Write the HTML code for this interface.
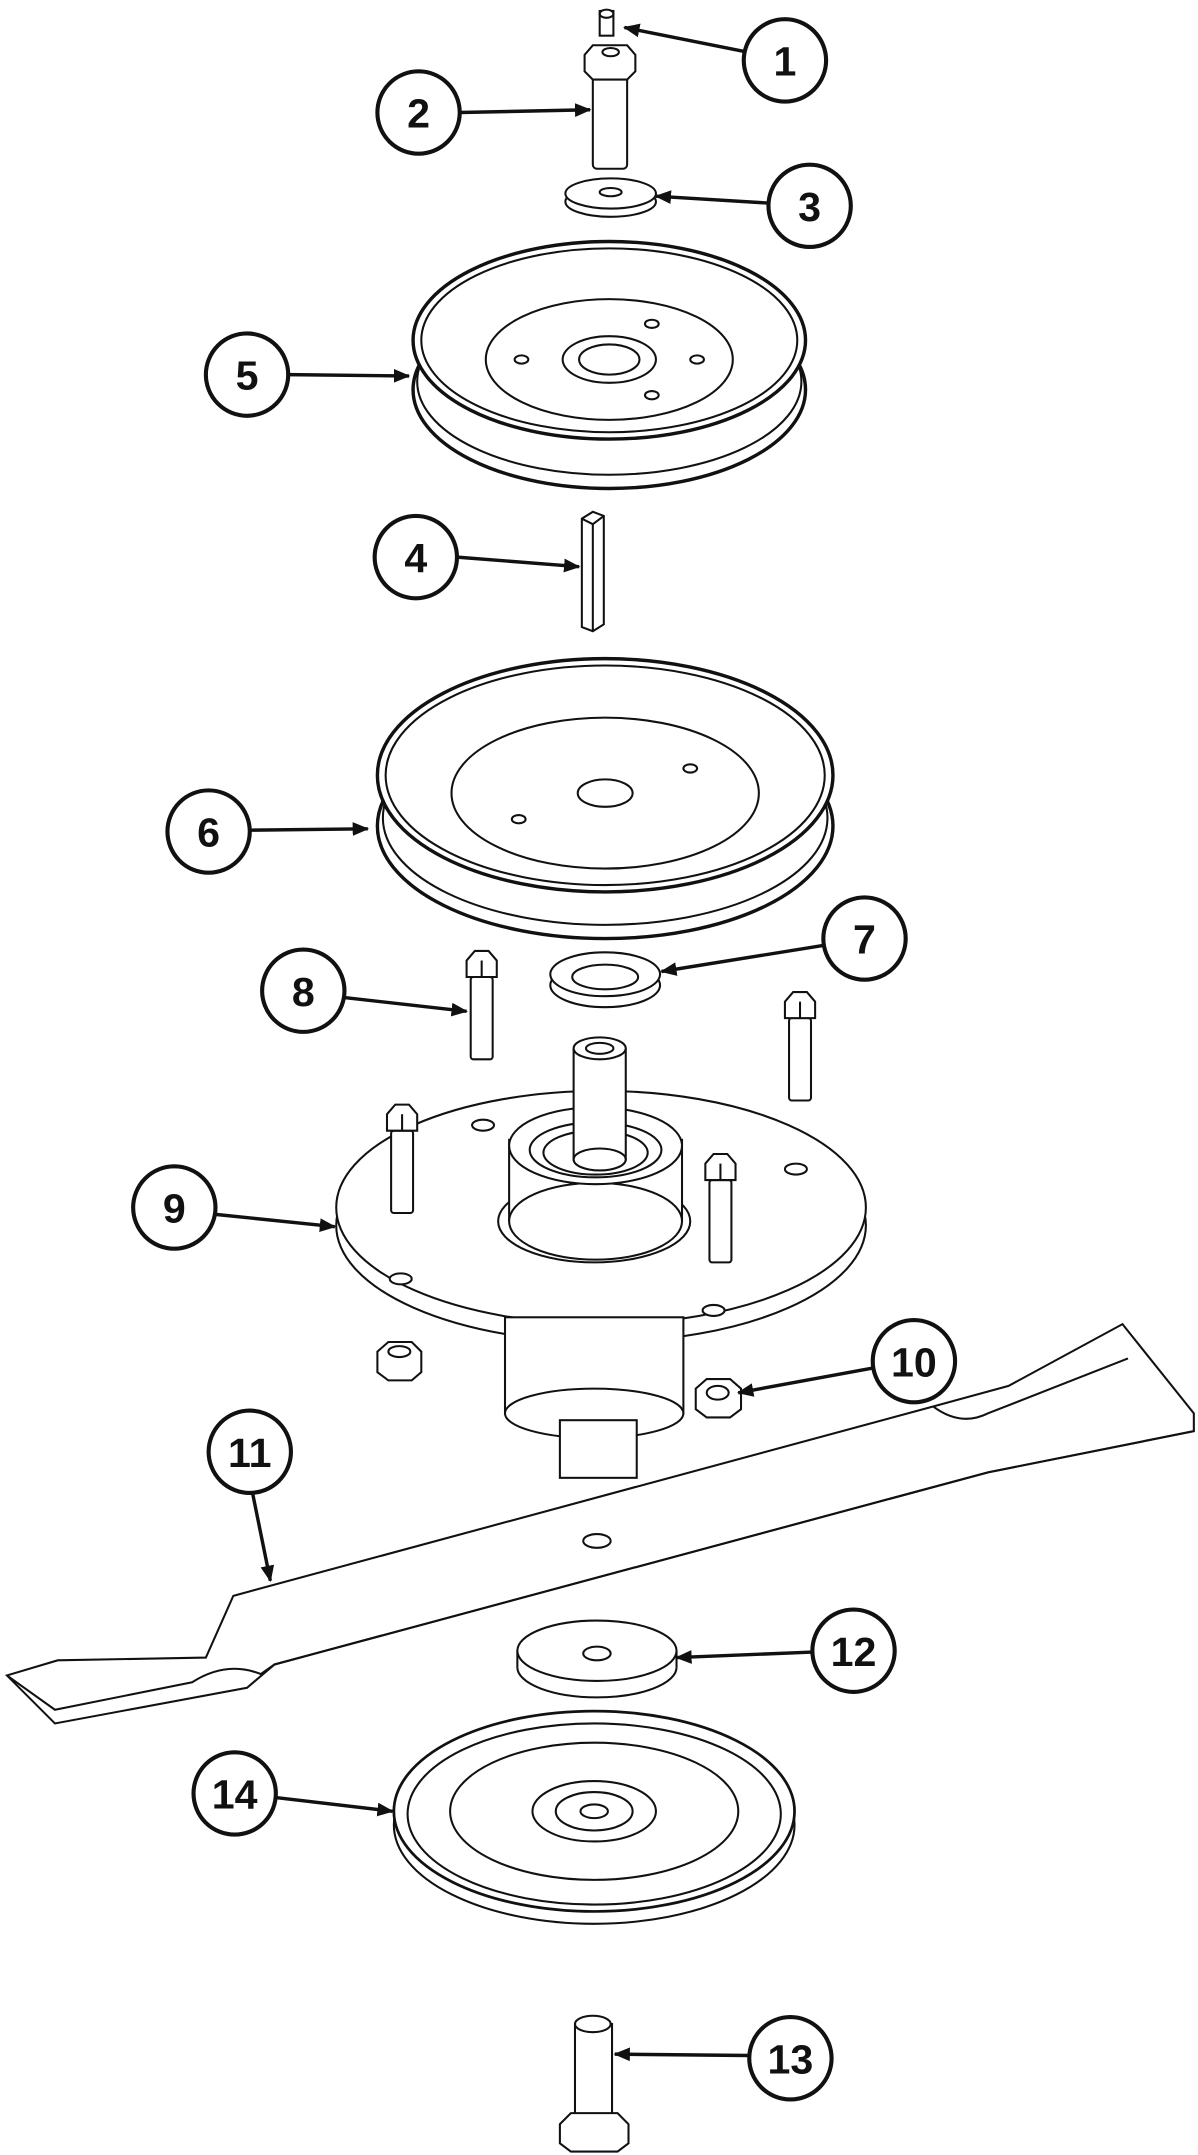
<!DOCTYPE html>
<html><head><meta charset="utf-8"><style>
html,body{margin:0;padding:0;background:#fff;}
svg{display:block;}
text{font-family:"Liberation Sans",Arial,sans-serif;font-weight:bold;font-size:30px;}
</style></head><body>
<svg width="1198" height="2155" viewBox="0 0 873 1570.5" xmlns="http://www.w3.org/2000/svg">
<defs><marker id="a" markerWidth="12" markerHeight="10" refX="11" refY="5" orient="auto" markerUnits="userSpaceOnUse"><path d="M0,0 L12,5 L0,10 z" fill="#111"/></marker></defs>
<g fill="#fff" stroke="#111" stroke-width="1.5">
<rect x="437" y="8" width="10" height="18"/><ellipse cx="442" cy="10" rx="5" ry="3"/>
<rect x="432" y="48" width="25" height="75" rx="3"/>
<polygon points="426,40 432,33 457,33 463,40 463,52 457,58 432,58 426,52"/>
<ellipse cx="445" cy="38" rx="6" ry="3"/>
<ellipse cx="445" cy="147" rx="33" ry="11"/><ellipse cx="445" cy="141" rx="33" ry="11"/><ellipse cx="445" cy="140" rx="8" ry="3"/>
<ellipse cx="444" cy="284" rx="143" ry="72" stroke-width="2.5"/>
<ellipse cx="444" cy="278" rx="140" ry="68"/>
<ellipse cx="444" cy="248" rx="143" ry="72" stroke-width="2.5"/>
<ellipse cx="444" cy="248" rx="137" ry="67"/>
<ellipse cx="444" cy="262" rx="90" ry="44"/>
<ellipse cx="444" cy="262" rx="34" ry="17"/><ellipse cx="444" cy="262" rx="22" ry="11"/>
<ellipse cx="380" cy="262" rx="5" ry="3"/><ellipse cx="508" cy="262" rx="5" ry="3"/><ellipse cx="475" cy="236" rx="5" ry="3"/><ellipse cx="475" cy="288" rx="5" ry="3"/>
<polygon points="424,378 432,373 440,376 440,455 432,460 424,457"/>
<line x1="424" y1="378" x2="432" y2="382"/><line x1="432" y1="382" x2="440" y2="376"/><line x1="432" y1="382" x2="432" y2="460"/>
<ellipse cx="441" cy="602" rx="166" ry="82" stroke-width="2.5"/>
<ellipse cx="441" cy="596" rx="162" ry="78"/>
<ellipse cx="441" cy="565" rx="166" ry="85" stroke-width="2.5"/>
<ellipse cx="441" cy="565" rx="160" ry="80"/>
<ellipse cx="441" cy="578" rx="112" ry="55"/>
<ellipse cx="441" cy="578" rx="20" ry="10"/>
<ellipse cx="378" cy="597" rx="5" ry="3"/><ellipse cx="503" cy="560" rx="5" ry="3"/>
<ellipse cx="441" cy="718" rx="40" ry="16"/><ellipse cx="441" cy="710" rx="40" ry="16"/><ellipse cx="441" cy="712" rx="24" ry="9"/>
<ellipse cx="438" cy="893" rx="193" ry="85"/>
<ellipse cx="438" cy="880" rx="193" ry="85"/>
<rect x="368" y="960" width="130" height="70"/>
<ellipse cx="433" cy="1030" rx="65" ry="18"/>
<rect x="408" y="1035" width="56" height="42"/>
<ellipse cx="433" cy="890" rx="70" ry="30"/>
<rect x="371" y="830" width="126" height="60" stroke="none"/>
<line x1="371" y1="830" x2="371" y2="890"/><line x1="497" y1="830" x2="497" y2="890"/>
<ellipse cx="434" cy="890" rx="63" ry="28"/>
<ellipse cx="434" cy="835" rx="63" ry="28"/>
<ellipse cx="434" cy="838" rx="48" ry="20"/><ellipse cx="434" cy="840" rx="38" ry="16"/>
<rect x="418" y="765" width="38" height="80"/><ellipse cx="437" cy="845" rx="19" ry="8"/>
<ellipse cx="437" cy="764" rx="19" ry="8"/><ellipse cx="437" cy="764" rx="10" ry="4"/>
<ellipse cx="352" cy="820" rx="8" ry="4"/><ellipse cx="580" cy="852" rx="8" ry="4"/><ellipse cx="292" cy="932" rx="8" ry="4"/><ellipse cx="520" cy="955" rx="8" ry="4"/>
<g id="b"><rect x="343" y="712" width="16" height="60" rx="2"/><polygon points="340,700 346,693 356,693 362,700 362,712 340,712"/><line x1="351" y1="700" x2="351" y2="712"/></g>
<use href="#b" x="232" y="30"/><use href="#b" x="-58" y="112"/><use href="#b" x="174" y="148"/>
<polygon points="275,985 283,978 300,978 307,985 307,1000 300,1006 283,1006 275,1000"/><ellipse cx="291" cy="985" rx="8" ry="4"/>
<polygon points="507,1012 515,1005 532,1005 540,1012 540,1027 532,1033 515,1033 507,1027"/><ellipse cx="523" cy="1015" rx="8" ry="5"/>
<polygon points="5,1221 42,1210 150,1208 170,1163 680,1025 735,1010 818,965 870,1030 870,1043 720,1073 200,1213 180,1230 40,1256"/>
<path d="M5,1221 L40,1246 L140,1226 Q165,1210 190,1220 L200,1213 L720,1073 L870,1043" fill="none"/>
<path d="M680,1025 Q700,1040 720,1030 L822,990" fill="none"/>
<ellipse cx="435" cy="1123" rx="10" ry="5"/>
<ellipse cx="435" cy="1215" rx="58" ry="22"/><rect x="377" y="1203" width="116" height="12" stroke="none"/>
<line x1="377" y1="1203" x2="377" y2="1215"/><line x1="493" y1="1203" x2="493" y2="1215"/>
<ellipse cx="435" cy="1203" rx="58" ry="22"/><ellipse cx="435" cy="1205" rx="10" ry="5"/>
<ellipse cx="433" cy="1330" rx="146" ry="72"/>
<ellipse cx="433" cy="1320" rx="146" ry="73" stroke-width="2"/>
<ellipse cx="433" cy="1322" rx="136" ry="66"/>
<ellipse cx="433" cy="1320" rx="105" ry="50"/>
<ellipse cx="433" cy="1320" rx="45" ry="22"/><ellipse cx="433" cy="1320" rx="28" ry="14"/><ellipse cx="433" cy="1320" rx="10" ry="5"/>
<rect x="419" y="1475" width="27" height="70"/><ellipse cx="432" cy="1475" rx="13" ry="6"/>
<polygon points="408,1548 416,1540 450,1540 458,1548 458,1562 450,1568 416,1568 408,1562"/>
</g>
<g stroke="#111" stroke-width="2.5" fill="none" marker-end="url(#a)">
<line x1="545" y1="38" x2="455" y2="20"/>
<line x1="335" y1="82" x2="430" y2="80"/>
<line x1="560" y1="148" x2="478" y2="143"/>
<line x1="210" y1="273" x2="298" y2="274"/>
<line x1="333" y1="406" x2="422" y2="413"/>
<line x1="182" y1="605" x2="268" y2="604"/>
<line x1="600" y1="689" x2="482" y2="708"/>
<line x1="251" y1="727" x2="340" y2="737"/>
<line x1="157" y1="885" x2="244" y2="894"/>
<line x1="636" y1="997" x2="538" y2="1015"/>
<line x1="184" y1="1088" x2="197" y2="1152"/>
<line x1="592" y1="1204" x2="493" y2="1208"/>
<line x1="201" y1="1310" x2="286" y2="1320"/>
<line x1="546" y1="1498" x2="448" y2="1497"/>
</g>
<g fill="#fff" stroke="#111" stroke-width="3">
<circle cx="572" cy="44" r="30"/><circle cx="305" cy="82" r="30"/><circle cx="590" cy="150" r="30"/>
<circle cx="180" cy="273" r="30"/><circle cx="303" cy="406" r="30"/><circle cx="152" cy="606" r="30"/>
<circle cx="630" cy="684" r="30"/><circle cx="221" cy="722" r="30"/><circle cx="127" cy="880" r="30"/>
<circle cx="666" cy="992" r="30"/><circle cx="182" cy="1058" r="30"/><circle cx="622" cy="1203" r="30"/>
<circle cx="171" cy="1307" r="30"/><circle cx="576" cy="1500" r="30"/>
</g>
<g fill="#111" text-anchor="middle">
<text x="572" y="55">1</text><text x="305" y="93">2</text><text x="590" y="161">3</text>
<text x="180" y="284">5</text><text x="303" y="417">4</text><text x="152" y="617">6</text>
<text x="630" y="695">7</text><text x="221" y="733">8</text><text x="127" y="891">9</text>
<text x="666" y="1003">10</text><text x="182" y="1069">11</text><text x="622" y="1214">12</text>
<text x="171" y="1318">14</text><text x="576" y="1511">13</text>
</g>
</svg>
</body></html>
